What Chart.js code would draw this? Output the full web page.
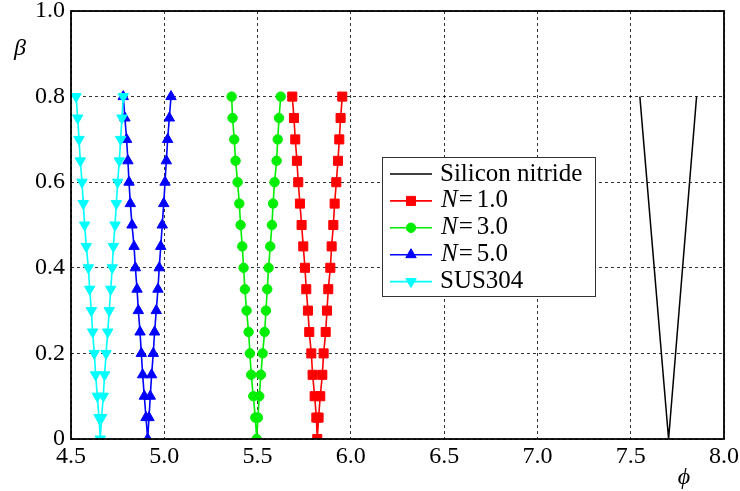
<!DOCTYPE html>
<html>
<head>
<meta charset="utf-8">
<script src="https://cdn.jsdelivr.net/npm/chart.js@4/dist/chart.umd.min.js"></script>
<style>
  html, body { margin: 0; padding: 0; background: #fff; }
  #wrap { position: relative; width: 740px; height: 491px; }
</style>
</head>
<body>
<div id="wrap"><canvas id="chart1"></canvas></div>
<script>
// beta values, bottom (0) to top (0.8)
const betaGrid = [0, 0.05, 0.1, 0.15, 0.2, 0.25, 0.3, 0.35, 0.4, 0.45, 0.5, 0.55, 0.6, 0.65, 0.7, 0.75, 0.8];

// phi, left and right branch of each curve
const phiN1Left  = [5.820, 5.815, 5.806, 5.795, 5.788, 5.777, 5.770, 5.761, 5.754, 5.745, 5.736, 5.727, 5.718, 5.711, 5.702, 5.695, 5.686];
const phiN1Right = [5.820, 5.827, 5.836, 5.847, 5.854, 5.865, 5.872, 5.879, 5.890, 5.897, 5.906, 5.913, 5.922, 5.931, 5.938, 5.945, 5.954];
const phiN3Left  = [5.495, 5.488, 5.477, 5.466, 5.459, 5.452, 5.441, 5.432, 5.425, 5.418, 5.409, 5.402, 5.393, 5.382, 5.375, 5.366, 5.361];
const phiN3Right = [5.495, 5.502, 5.509, 5.518, 5.527, 5.538, 5.545, 5.552, 5.559, 5.568, 5.577, 5.583, 5.591, 5.602, 5.608, 5.615, 5.624];
const phiN5Left  = [4.911, 4.902, 4.893, 4.884, 4.877, 4.870, 4.861, 4.854, 4.845, 4.838, 4.827, 4.818, 4.811, 4.805, 4.798, 4.789, 4.780];
const phiN5Right = [4.911, 4.918, 4.925, 4.932, 4.941, 4.948, 4.957, 4.966, 4.973, 4.981, 4.989, 4.997, 5.004, 5.011, 5.018, 5.027, 5.036];
const phiSusLeft  = [4.657, 4.650, 4.641, 4.632, 4.625, 4.616, 4.609, 4.600, 4.593, 4.582, 4.573, 4.566, 4.559, 4.550, 4.543, 4.536, 4.527];
const phiSusRight = [4.657, 4.664, 4.673, 4.680, 4.688, 4.697, 4.705, 4.713, 4.721, 4.727, 4.736, 4.743, 4.750, 4.759, 4.766, 4.773, 4.780];

const phiSiN  = [7.549, 7.703, 7.853];
const betaSiN = [0.8, 0, 0.8];

const seriesNames = ['Silicon nitride', 'N=1.0', 'N=3.0', 'N=5.0', 'SUS304'];
const seriesColors = ['#000000', '#ff0000', '#00ee00', '#0000ff', '#00ffff'];

const xTicks = [4.5, 5.0, 5.5, 6.0, 6.5, 7.0, 7.5, 8.0];
const yTicks = [0, 0.2, 0.4, 0.6, 0.8, 1.0];

const FONT = '"Liberation Serif", "DejaVu Serif", serif';

// V-shaped curve: left branch top->bottom, then right branch bottom->top
function vCurve(left, right) {
  let pts = [];
  for (let i = betaGrid.length - 1; i >= 0; i--) pts.push({ x: left[i], y: betaGrid[i] });
  for (let i = 1; i < betaGrid.length; i++) pts.push({ x: right[i], y: betaGrid[i] });
  return pts;
}

const markerStyles = [
  { pointStyle: false, radius: 0, rotation: 0 },
  { pointStyle: 'rect', radius: 6.4, rotation: 0 },
  { pointStyle: 'circle', radius: 4.7, rotation: 0 },
  { pointStyle: 'triangle', radius: 6, rotation: 0 },
  { pointStyle: 'triangle', radius: 6, rotation: 180 }
];

const seriesData = [
  phiSiN.map((p, i) => ({ x: p, y: betaSiN[i] })),
  vCurve(phiN1Left, phiN1Right),
  vCurve(phiN3Left, phiN3Right),
  vCurve(phiN5Left, phiN5Right),
  vCurve(phiSusLeft, phiSusRight)
];

let datasets = [];
for (let i = 0; i < seriesNames.length; i++) {
  datasets.push({
    label: seriesNames[i],
    data: seriesData[i],
    showLine: true,
    borderColor: seriesColors[i],
    backgroundColor: seriesColors[i],
    borderWidth: i === 0 ? 1.5 : 1.6,
    pointStyle: markerStyles[i].pointStyle,
    pointRadius: markerStyles[i].radius,
    pointRotation: markerStyles[i].rotation,
    pointBorderWidth: 1,
    order: seriesNames.length - i
  });
}

const framePlugin = {
  id: 'frame',
  afterDraw(chart) {
    const ctx = chart.ctx;
    const a = chart.chartArea;
    ctx.save();
    // axes box
    ctx.strokeStyle = '#000';
    ctx.lineWidth = 1.8;
    ctx.strokeRect(a.left, a.top, a.right - a.left, a.bottom - a.top);

    // legend
    const lx = 382, ly = 157, lw = 213, lh = 139;
    ctx.fillStyle = '#fff';
    ctx.fillRect(lx, ly, lw, lh);
    ctx.strokeStyle = '#333';
    ctx.lineWidth = 1;
    ctx.strokeRect(lx + 0.5, ly + 0.5, lw, lh);
    for (let i = 0; i < seriesNames.length; i++) {
      const y = 174 + i * 26.9;
      ctx.strokeStyle = seriesColors[i];
      ctx.fillStyle = seriesColors[i];
      ctx.lineWidth = 1.6;
      ctx.beginPath();
      ctx.moveTo(390, y);
      ctx.lineTo(432, y);
      ctx.stroke();
      if (markerStyles[i].pointStyle) {
        ctx.lineWidth = 1;
        Chart.helpers.drawPoint(ctx, {
          pointStyle: markerStyles[i].pointStyle,
          radius: markerStyles[i].radius,
          rotation: markerStyles[i].rotation,
          borderWidth: 1
        }, 411, y);
      }
      ctx.fillStyle = '#000';
      ctx.textBaseline = 'middle';
      ctx.textAlign = 'left';
      const name = seriesNames[i];
      if (name.startsWith('N=')) {
        ctx.font = 'italic 25px ' + FONT;
        ctx.fillText('N', 441, y);
        let x = 441 + ctx.measureText('N').width + 1;
        ctx.font = '25px ' + FONT;
        ctx.fillText('=', x, y);
        x += ctx.measureText('=').width + 4;
        ctx.fillText(name.slice(2), x, y);
      } else {
        ctx.font = '25px ' + FONT;
        ctx.fillText(name, 440, y);
      }
    }

    // axis symbols
    ctx.fillStyle = '#000';
    ctx.font = 'italic 24px ' + FONT;
    ctx.textAlign = 'center';
    ctx.textBaseline = 'middle';
    ctx.fillText('\u03B2', 20, 49);
    ctx.fillText('\u03D5', 684, 478);
    ctx.restore();
  }
};

const bgPlugin = {
  id: 'bg',
  beforeDraw(chart) {
    const ctx = chart.ctx;
    ctx.save();
    ctx.fillStyle = '#fff';
    ctx.fillRect(0, 0, chart.width, chart.height);
    ctx.restore();
  }
};

function drawChart1() {
  const ctx = document.getElementById('chart1');
  return new Chart(ctx, {
    type: 'scatter',
    data: { datasets: datasets },
    plugins: [bgPlugin, framePlugin],
    options: {
      responsive: true,
      maintainAspectRatio: false,
      animation: false,
      events: [],
      layout: { padding: { top: 11, right: 16, left: 0, bottom: 0 } },
      plugins: {
        legend: { display: false },
        tooltip: { enabled: false }
      },
      scales: {
        x: {
          type: 'linear',
          min: 4.5,
          max: 8.0,
          afterBuildTicks: (scale) => { scale.ticks = xTicks.map(v => ({ value: v })); },
          afterFit: (scale) => { scale.height = 52; scale.paddingLeft = 0; scale.paddingRight = 0; },
          ticks: {
            padding: 3,
            color: '#000',
            font: { family: FONT, size: 24 },
            maxRotation: 0,
            callback: (v) => Number(v).toFixed(1)
          },
          grid: { color: 'rgba(0,0,0,0.8)', lineWidth: 1, drawTicks: false },
          border: { display: false, dash: [3, 3] }
        },
        y: {
          type: 'linear',
          min: 0,
          max: 1.0,
          afterBuildTicks: (scale) => { scale.ticks = yTicks.map(v => ({ value: v })); },
          afterFit: (scale) => { scale.width = 71; scale.paddingTop = 0; scale.paddingBottom = 0; },
          ticks: {
            padding: 6,
            color: '#000',
            font: { family: FONT, size: 24 },
            callback: (v) => v === 0 ? '0' : Number(v).toFixed(1)
          },
          grid: { color: 'rgba(0,0,0,0.8)', lineWidth: 1, drawTicks: false },
          border: { display: false, dash: [3, 3] }
        }
      }
    }
  });
}

Promise.all([
  document.fonts.load('24px "Liberation Serif"'),
  document.fonts.load('italic 24px "Liberation Serif"')
]).catch(() => null).then(() => { drawChart1(); });
</script>
</body>
</html>
